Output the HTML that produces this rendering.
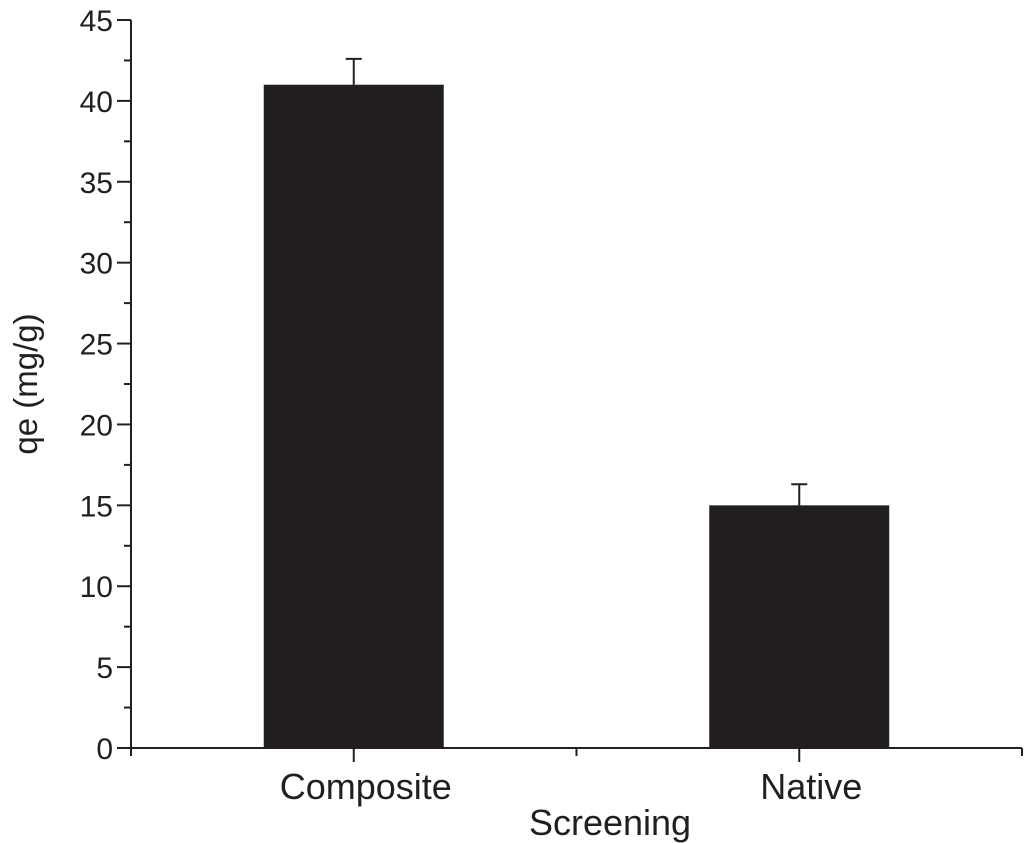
<!DOCTYPE html>
<html><head><meta charset="utf-8"><style>
body{margin:0;background:#fff}
svg{display:block;font-family:"Liberation Sans",Arial,sans-serif}
</style></head><body>
<svg id="chart" width="1024" height="843"></svg>
<script>
const categories = ["Composite", "Native"];
const values = [41, 15];
const errors = [1.6, 1.3];
const yTicks = [0, 5, 10, 15, 20, 25, 30, 35, 40, 45];

const NS = "http://www.w3.org/2000/svg";
const svg = document.getElementById("chart");
const x0 = 131, x1 = 1022, yBase = 748, yTop = 20, yMax = 45;
const yS = v => yBase - (v / yMax) * (yBase - yTop);
const band = (x1 - x0) / categories.length;
const xC = i => x0 + band * (i + 0.5);
const barW = 180;
function el(tag, attrs, text) {
  const e = document.createElementNS(NS, tag);
  for (const k in attrs) e.setAttribute(k, attrs[k]);
  if (text !== undefined) e.textContent = text;
  svg.appendChild(e);
  return e;
}
categories.forEach((c, i) => {
  const cx = xC(i);
  const top = yS(values[i] + errors[i]);
  const err = el("path", {d: `M${cx},${yS(values[i])}V${top}M${cx-8},${top}H${cx+8}`, stroke: "#231f20", "stroke-width": 2, fill: "none"});
  
  
  const b = el("rect", {x: cx - barW / 2, y: yS(values[i]), width: barW, height: yBase - yS(values[i]), fill: "#231f20"});
  
  
  const t = el("text", {x: cx + 12, y: 799, "font-size": 36, "text-anchor": "middle", fill: "#231f20"}, c);
  
  
});
const ya = el("line", {x1: x0, y1: yTop, x2: x0, y2: yBase + 1, stroke: "#231f20", "stroke-width": 2});


const xa = el("line", {x1: x0 - 1, y1: yBase, x2: x1, y2: yBase, stroke: "#231f20", "stroke-width": 2});


yTicks.forEach(v => {
  const tk = el("line", {x1: x0 - 14, y1: yS(v), x2: x0, y2: yS(v), stroke: "#231f20", "stroke-width": 2});
  
  
  if (v < yMax) {
    const m = el("line", {x1: x0 - 7, y1: yS(v + 2.5), x2: x0, y2: yS(v + 2.5), stroke: "#231f20", "stroke-width": 2});
    
    
  }
  const l = el("text", {x: x0 - 18, y: yS(v) + 11, "font-size": 30, "text-anchor": "end", fill: "#231f20"}, v);
  
  
});
for (let i = 0; i <= categories.length * 2; i++) {
  const x = x0 + band / 2 * i;
  const len = i % 2 ? 14 : 8;
  const tk = el("line", {x1: x, y1: yBase, x2: x, y2: yBase + len, stroke: "#231f20", "stroke-width": 2});
  
  
}
const xt = el("text", {x: 610, y: 835, "font-size": 36, "text-anchor": "middle", fill: "#231f20"}, "Screening");


const yt = el("text", {x: 0, y: 0, "font-size": 33, "text-anchor": "middle", fill: "#231f20", transform: "translate(37,384) rotate(-90)"}, "qe (mg/g)");


</script>
</body></html>
